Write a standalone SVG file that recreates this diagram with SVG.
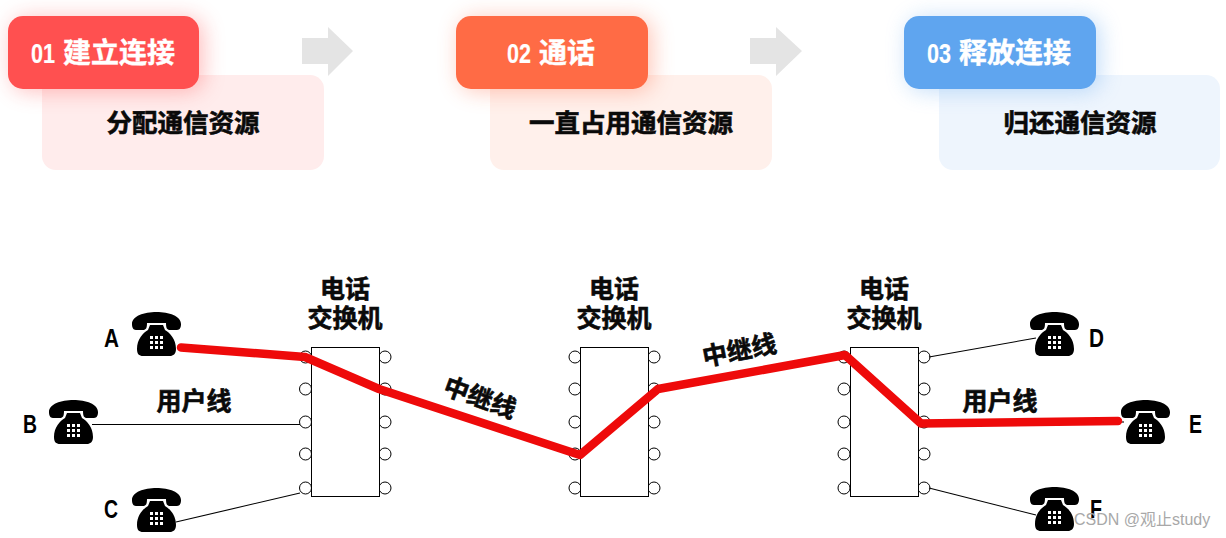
<svg xmlns="http://www.w3.org/2000/svg" xmlns:xlink="http://www.w3.org/1999/xlink" width="1226" height="538" viewBox="0 0 1226 538">
<style>
text{font-family:"Noto Sans CJK SC","Liberation Sans",sans-serif}
.h{font-size:28px;font-weight:700;fill:#fff;stroke:#fff;stroke-width:.4}
.n{font-family:"Liberation Sans",sans-serif;font-size:28px;stroke-width:.2}
.b{font-size:25.500px;font-weight:700;fill:#0a0a0a;stroke:#0a0a0a;stroke-width:.6;text-anchor:middle}
.l{font-size:25px;font-weight:700;fill:#0a0a0a;stroke:#0a0a0a;stroke-width:.6;text-anchor:middle}
.p{font-family:"Liberation Sans",sans-serif;font-size:25px;font-weight:700;fill:#000}
.sw{fill:#fff;stroke:#000;stroke-width:1}
.c{fill:#fff;stroke:#000;stroke-width:1}
.thin{fill:none;stroke:#000;stroke-width:1.1}
.red{fill:none;stroke:#ee0a0a;stroke-width:8.500;stroke-linejoin:round;stroke-linecap:round}
.arr{fill:#e4e4e4}
</style>
<defs>
<filter id="s" x="-40%" y="-70%" width="180%" height="240%"><feGaussianBlur stdDeviation="11"/></filter>
<symbol id="phone" overflow="visible">
<path d="M0 12C0 4 12 0 24.500 0S49 4 49 12C49 17 47 18 44 18L38 18C35 18 34 16 34 11L15 11C15 16 14 18 11 18L5 18C2 18 0 17 0 12Z" fill="#000"/>
<path d="M18 13L31 13L33 18C38 21 44 27 44 37C44 42 41 44 38 44L11 44C7 44 5 42 5 37C5 27 11 21 16 18Z" fill="#000"/>
<g fill="#fff"><rect x="18" y="24" width="3" height="3"/><rect x="23" y="24" width="3" height="3"/><rect x="28" y="24" width="3" height="3"/><rect x="18" y="29" width="3" height="3"/><rect x="23" y="29" width="3" height="3"/><rect x="28" y="29" width="3" height="3"/><rect x="18" y="34" width="3" height="3"/><rect x="23" y="34" width="3" height="3"/><rect x="28" y="34" width="3" height="3"/></g>
</symbol>
</defs>
<rect width="1226" height="538" fill="#fff"/>

<g id="step1">
<rect x="42" y="75" width="282" height="95" rx="14" fill="#ffecec"/>
<rect x="12" y="18" width="191" height="73" rx="15" fill="#ff5050" opacity=".38" filter="url(#s)"/>
<rect x="8" y="16" width="191" height="73" rx="15" fill="#ff5050"/>
<text class="h n" x="31" y="63" textLength="24" lengthAdjust="spacingAndGlyphs">01</text><text class="h" x="63" y="63">建立连接</text>
<text class="b" x="183" y="132">分配通信资源</text>
</g>
<g id="step2">
<rect x="490" y="75" width="282" height="95" rx="14" fill="#fff0eb"/>
<rect x="460" y="18" width="192" height="73" rx="15" fill="#ff6b45" opacity=".38" filter="url(#s)"/>
<rect x="456" y="16" width="192" height="73" rx="15" fill="#ff6b45"/>
<text class="h n" x="507" y="63" textLength="24" lengthAdjust="spacingAndGlyphs">02</text><text class="h" x="539" y="63">通话</text>
<text class="b" x="631" y="132">一直占用通信资源</text>
</g>
<g id="step3">
<rect x="939" y="75" width="281" height="95" rx="14" fill="#eef5fd"/>
<rect x="908" y="18" width="192" height="73" rx="15" fill="#5fa5ef" opacity=".38" filter="url(#s)"/>
<rect x="904" y="16" width="192" height="73" rx="15" fill="#5fa5ef"/>
<text class="h n" x="927" y="63" textLength="24" lengthAdjust="spacingAndGlyphs">03</text><text class="h" x="959" y="63">释放连接</text>
<text class="b" x="1080" y="132">归还通信资源</text>
</g>
<g id="arrows">
<path class="arr" d="M302 38H328V27L353 51L328 76V64H302Z"/>
<path class="arr" d="M750 38H776V27L802 51L776 76V64H750Z"/>
</g>

<g id="switch1">
<g class="c"><circle cx="305.500" cy="357" r="6"/><circle cx="305.500" cy="389" r="6"/><circle cx="305.500" cy="422" r="6"/><circle cx="305.500" cy="454" r="6"/><circle cx="305.500" cy="488" r="6"/><circle cx="385" cy="357" r="6"/><circle cx="385" cy="389" r="6"/><circle cx="385" cy="422" r="6"/><circle cx="385" cy="454" r="6"/><circle cx="385" cy="488" r="6"/></g>
<rect class="sw" x="311.500" y="347.500" width="68" height="149"/>
<text class="l" x="345" y="298">电话</text><text class="l" x="345" y="327">交换机</text>
</g>
<g id="switch2">
<g class="c"><circle cx="575" cy="357" r="6"/><circle cx="575" cy="389" r="6"/><circle cx="575" cy="422" r="6"/><circle cx="575" cy="454" r="6"/><circle cx="575" cy="488" r="6"/><circle cx="654" cy="357" r="6"/><circle cx="654" cy="389" r="6"/><circle cx="654" cy="422" r="6"/><circle cx="654" cy="454" r="6"/><circle cx="654" cy="488" r="6"/></g>
<rect class="sw" x="580.500" y="347.500" width="68" height="149"/>
<text class="l" x="614" y="298">电话</text><text class="l" x="614" y="327">交换机</text>
</g>
<g id="switch3">
<g class="c"><circle cx="844" cy="357" r="6"/><circle cx="844" cy="389" r="6"/><circle cx="844" cy="422" r="6"/><circle cx="844" cy="454" r="6"/><circle cx="844" cy="488" r="6"/><circle cx="924" cy="357" r="6"/><circle cx="924" cy="389" r="6"/><circle cx="924" cy="422" r="6"/><circle cx="924" cy="454" r="6"/><circle cx="924" cy="488" r="6"/></g>
<rect class="sw" x="850.500" y="347.500" width="68" height="149"/>
<text class="l" x="884" y="298">电话</text><text class="l" x="884" y="327">交换机</text>
</g>

<g id="connectors">
<path class="thin" d="M92 424.500H300"/>
<path class="thin" d="M176 522L300 493"/>
<path class="thin" d="M929 357L1036 338"/>
<path class="thin" d="M929 488L1036 515"/>
<path class="thin" d="M1115 422H1124"/>
<path class="red" d="M181 347.500L305 357L379 389L580 455L658 389L845 355L921 423.500L1118 421"/>
</g>
<g id="line-labels">
<text class="l" x="194" y="410">用户线</text>
<text class="l" x="1000" y="410">用户线</text>
<text class="l" transform="translate(477 406) rotate(20)">中继线</text>
<text class="l" transform="translate(741 359) rotate(-11)">中继线</text>
</g>
<g id="phoneA"><use xlink:href="#phone" href="#phone" x="132" y="312"/><text class="p" x="104" y="347" textLength="15" lengthAdjust="spacingAndGlyphs">A</text></g>
<g id="phoneB"><use xlink:href="#phone" href="#phone" x="49" y="400"/><text class="p" x="23" y="433" textLength="14" lengthAdjust="spacingAndGlyphs">B</text></g>
<g id="phoneC"><use xlink:href="#phone" href="#phone" x="132" y="488"/><text class="p" x="104" y="518" textLength="14" lengthAdjust="spacingAndGlyphs">C</text></g>
<g id="phoneD"><use xlink:href="#phone" href="#phone" x="1030" y="312"/><text class="p" x="1089" y="347" textLength="15" lengthAdjust="spacingAndGlyphs">D</text></g>
<g id="phoneE"><use xlink:href="#phone" href="#phone" x="1121" y="400"/><text class="p" x="1189" y="433" textLength="13" lengthAdjust="spacingAndGlyphs">E</text></g>
<g id="phoneF"><use xlink:href="#phone" href="#phone" x="1030" y="487"/><text class="p" x="1090" y="518" textLength="12" lengthAdjust="spacingAndGlyphs">F</text></g>
<text x="1074" y="525" font-size="16" fill="#a8a8a8" style="font-family:'Liberation Sans','Noto Sans CJK SC',sans-serif">CSDN @观止study</text>
</svg>
